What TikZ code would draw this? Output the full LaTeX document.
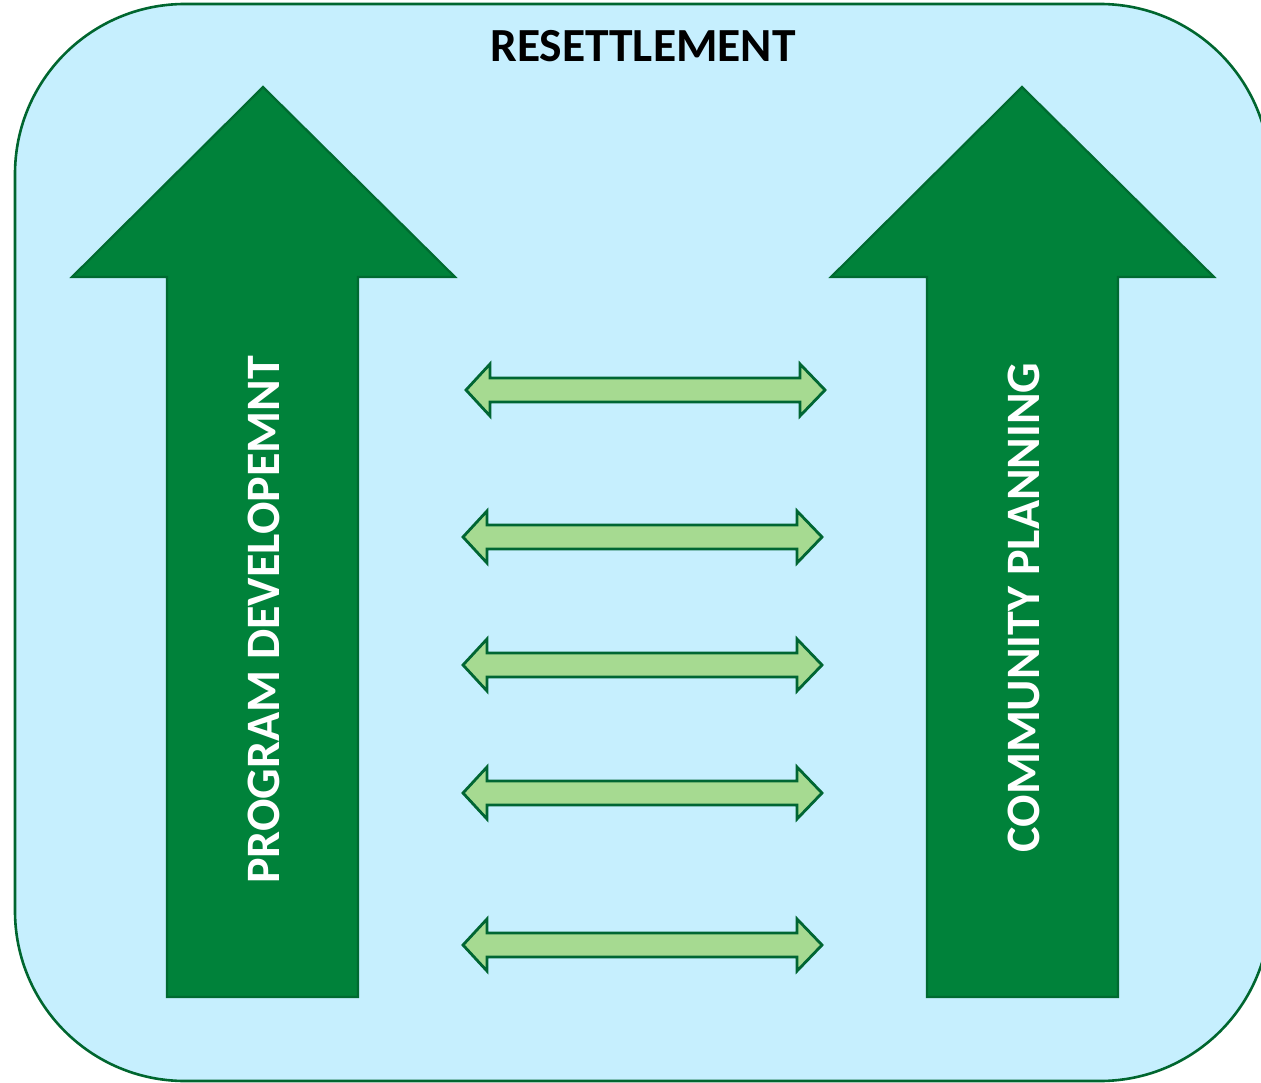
\documentclass[tikz,border=0pt]{standalone}
\usepackage{fontspec}
\setmainfont{Carlito}
\definecolor{bgblue}{HTML}{C6EFFE}
\definecolor{frame}{HTML}{00662F}
\definecolor{bigfill}{HTML}{00823A}
\definecolor{bigline}{HTML}{006A30}
\definecolor{dblfill}{HTML}{A6DA91}
\definecolor{dblline}{HTML}{006633}
\begin{document}
\begin{tikzpicture}[x=1pt,y=-1pt,
  framebox/.style={fill=bgblue,draw=frame,line width=2.6pt,rounded corners=170pt},
  bigarrow/.style={fill=bigfill,draw=bigline,line width=2.2pt,line join=miter},
  dblarrow/.style={fill=dblfill,draw=dblline,line width=2.8pt,line join=miter},
  titletext/.style={font=\fontsize{47.5}{52}\selectfont\bfseries,text=black,inner sep=0pt,anchor=base},
  arrowtext/.style={font=\fontsize{48}{52}\selectfont\bfseries,text=white,inner sep=0pt,anchor=base,rotate=90}]
\useasboundingbox (0,0) rectangle (1261,1083);
\clip (0,0) rectangle (1261,1083);
\draw[framebox] (15,4) rectangle (1270,1081);
% big arrows
\draw[bigarrow] (263,87) -- (455,277) -- (358,277) -- (358,997) -- (167,997) -- (167,277) -- (72,277) -- cycle;
\draw[bigarrow] (1022,87) -- (1214,277) -- (1118,277) -- (1118,997) -- (927,997) -- (927,277) -- (831,277) -- cycle;
% double arrows
\foreach \xl/\xr/\c in {466/825/390, 463/822/537, 463/822/665, 463/822/793, 463/822/945}{
  \draw[dblarrow] (\xl,\c) -- (\xl+24,\c-26) -- (\xl+24,\c-12) -- (\xr-25,\c-12) -- (\xr-25,\c-26)
    -- (\xr,\c) -- (\xr-25,\c+26) -- (\xr-25,\c+12) -- (\xl+24,\c+12) -- (\xl+24,\c+26) -- cycle;
}
\node[titletext] (title) at (643,62) {RESETTLEMENT};
\node[arrowtext] (prog) at (279,620) {PROGRAM DEVELOPEMNT};
\node[arrowtext] (comm) at (1039,607.5) {COMMUNITY PLANNING};
\end{tikzpicture}
\end{document}
